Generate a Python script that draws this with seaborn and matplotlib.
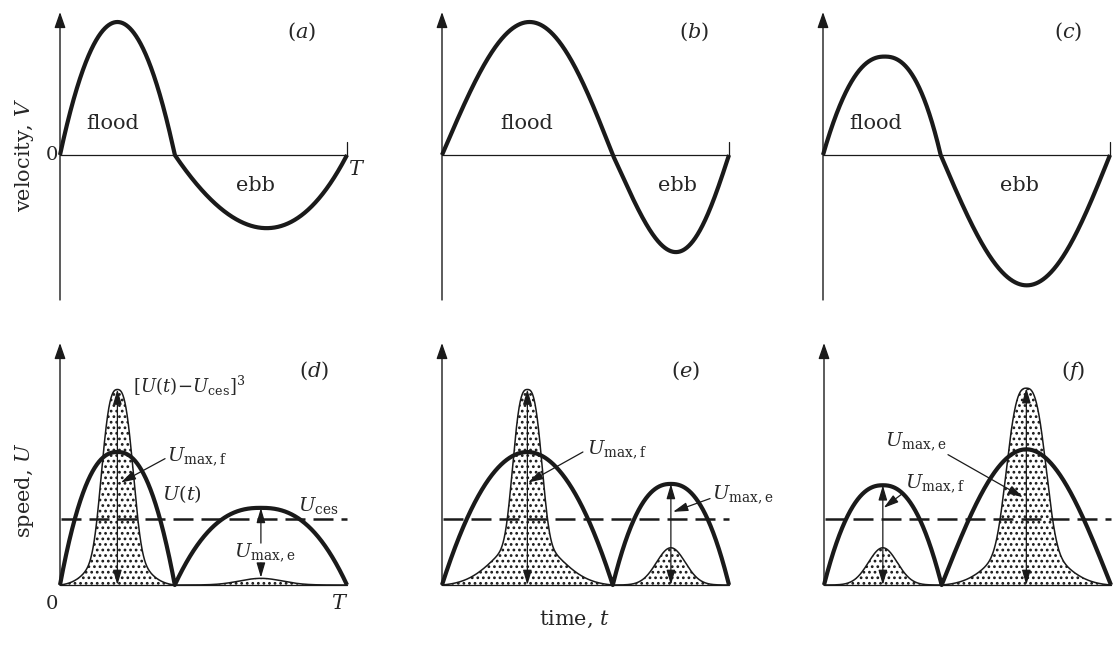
import numpy as np
import matplotlib
matplotlib.use("Agg")
import matplotlib.pyplot as plt
import seaborn as sns

# Tidal asymmetry sketches; time is measured in units of the tidal period T.
top_tags = ["a", "b", "c"]
bottom_tags = ["d", "e", "f"]

# turn of the tide (flood -> ebb) in each case
slack_t = [0.40, 0.595, 0.41]
# velocity extremes and their times
flood_peak_t = [0.20, 0.305, 0.215]
ebb_peak_t = [0.72, 0.815, 0.71]
flood_peak_v = [1.00, 1.00, 0.74]
ebb_peak_v = [-0.55, -0.73, -0.98]
# lobe outline: exponent p of 1 - |x|^p (x in [-1, 1]); None draws a sine lobe
flood_shape_v = [2.0, None, 2.3]
ebb_shape_v = [2.0, None, None]

# speed maxima of each half cycle and the critical speed for erosion
flood_umax = [1.00, 1.00, 0.75]
ebb_umax = [0.58, 0.76, 1.02]
flood_shape_u = [2.3, 2.0, 2.3]
ebb_shape_u = [2.4, 2.3, None]
u_ces = 0.50
# peaks of the stippled transport curve [U(t) - U_ces]^3
flood_cube = [1.47, 1.47, 0.28]
ebb_cube = [0.05, 0.28, 1.48]
# hump outline: (core width, skirt width, skirt weight)
flood_cube_shape = [(0.064, 0.10, 0.25), (0.059, 0.15, 0.25), (0.0, 0.071, 1.0)]
ebb_cube_shape = [(0.0, 0.105, 1.0), (0.0, 0.071, 1.0), (0.080, 0.146, 0.25)]

sns.set_theme(style="white")
plt.rcParams["font.family"] = ["DejaVu Serif"]
plt.rcParams["mathtext.fontset"] = "dejavuserif"
plt.rcParams["hatch.linewidth"] = 1.2
plt.rcParams["hatch.color"] = "black"

W, H = 1113, 645
fig = plt.figure(figsize=(W / 100, H / 100), dpi=100)
fig.patch.set_facecolor("white")

col_x = [60, 442, 824]
panel_w = 287
scale = 133.0
THICK = 3.0
THIN = 0.9
FS = 14


def add_axes(x0, ytop, ybot, ylim):
    ax = fig.add_axes([x0 / W, 1 - ybot / H, panel_w / W, (ybot - ytop) / H])
    ax.set_xlim(0, 1)
    ax.set_ylim(*ylim)
    ax.set_axis_off()
    ax.patch.set_alpha(0)
    ax.annotate("", xy=(0, 1), xycoords="axes fraction", xytext=(0, 0),
                arrowprops=dict(arrowstyle="-|>,head_length=0.8,head_width=0.28",
                                lw=1.0, color="k", shrinkA=0, shrinkB=0))
    return ax


def warp(s, f):
    k = (0.5 - f) / (f * (1 - f))
    return s + k * s * (1 - s)


def lobe(t, t0, t1, amp, p, f=0.5):
    s = warp(np.clip((t - t0) / (t1 - t0), 0, 1), f)
    if p is None:
        return amp * np.sin(np.pi * s)
    return amp * np.clip(1 - np.abs(2 * s - 1) ** p, 0, None)


def arrow(ax, p0, p1, style="-|>"):
    ax.annotate("", xy=p1, xytext=p0,
                arrowprops=dict(arrowstyle=f"{style},head_length=0.75,head_width=0.22",
                                lw=THIN, color="k", shrinkA=0, shrinkB=0))


def hump(t, tc, shape, t0, t1):
    core_w, skirt_w, a = shape

    def g(x):
        x = x - tc
        core = np.exp(-np.abs(x / core_w) ** 3) if a < 1 else 0.0
        return (1 - a) * core + a * np.exp(-(x / skirt_w) ** 2)
    base = g(t0) + (g(t1) - g(t0)) * (t - t0) / (t1 - t0)
    y = np.clip(g(t) - base, 0, None)
    return y / y.max()


# ---------- top row: velocity ----------
for i, x0 in enumerate(col_x):
    ax = add_axes(x0 if i != 2 else 823, 12, 300, (-(300 - 155) / scale, (155 - 12) / scale))
    ts = slack_t[i]
    t = np.unique(np.concatenate([np.linspace(0, 1, 2001), [ts]]))
    f1 = flood_peak_t[i] / ts
    f2 = (ebb_peak_t[i] - ts) / (1 - ts)
    v = np.where(t <= ts,
                 lobe(t, 0, ts, flood_peak_v[i], flood_shape_v[i], f1),
                 lobe(t, ts, 1, ebb_peak_v[i], ebb_shape_v[i], f2))
    ax.plot([0, 1], [0, 0], color="k", lw=THIN, clip_on=False)
    ax.plot([1, 1], [0, 0.1], color="k", lw=THIN, clip_on=False)
    sns.lineplot(x=t, y=v, ax=ax, color="k", lw=THICK, sort=False,
                 estimator=None, clip_on=False, solid_capstyle="butt")
    fl_x = [0.185, 0.296, 0.185][i]
    eb_x = [0.68, 0.822, 0.686][i]
    ax.text(fl_x, 0.24, "flood", ha="center", va="center", fontsize=FS + 1)
    ax.text(eb_x, -0.23, "ebb", ha="center", va="center", fontsize=FS + 1)
    tag_x = [0.84, 0.878, 0.854][i]
    ax.text(tag_x, 0.93, f"$({top_tags[i]})$", ha="center", va="center", fontsize=FS + 1)
    if i == 0:
        ax.text(-0.027, 0.0, "0", ha="center", va="center", fontsize=FS)
        ax.text(1.035, -0.11, "$T$", ha="center", va="center", fontsize=FS + 1)
        ax.text(-0.125, 0.0, "velocity, $V$", rotation=90, ha="center",
                va="center", fontsize=FS + 1)

# ---------- bottom row: speed ----------
for i, x0 in enumerate(col_x):
    ax = add_axes(x0, 343, 585, (0, (585 - 343) / scale))
    ts = slack_t[i]
    t = np.unique(np.concatenate([np.linspace(0, 1, 2001), [ts]]))
    u = np.where(t <= ts, lobe(t, 0, ts, flood_umax[i], flood_shape_u[i]),
                 lobe(t, ts, 1, ebb_umax[i], ebb_shape_u[i]))

    # stippled transport humps
    tf = np.linspace(0, ts, 800)
    te = np.linspace(ts, 1, 800)
    cf = flood_cube[i] * hump(tf, ts / 2, flood_cube_shape[i], 0, ts)
    ce = ebb_cube[i] * hump(te, (1 + ts) / 2, ebb_cube_shape[i], ts, 1)
    for tt, cc in ((tf, cf), (te, ce)):
        ax.fill_between(tt, 0, cc, facecolor="white", edgecolor="k",
                        hatch="...", lw=0)
        sns.lineplot(x=tt, y=cc, ax=ax, color="k", lw=1.1, sort=False,
                     estimator=None, clip_on=False)

    ax.plot([0, 1], [0, 0], color="k", lw=THIN, clip_on=False)
    ax.plot([0.005, 1], [u_ces, u_ces], color="k", lw=1.8, ls=(0, (8, 3.2)),
            clip_on=False)
    sns.lineplot(x=t, y=u, ax=ax, color="k", lw=THICK, sort=False,
                 estimator=None, clip_on=False, solid_capstyle="butt")

    tf_mid, te_mid = ts / 2, (1 + ts) / 2
    tag_x = [0.885, 0.85, 0.868][i]
    ax.text(tag_x, 1.61, f"$({bottom_tags[i]})$", ha="center", va="center",
            fontsize=FS + 1)
    sub_f = r"$U_{\mathrm{max,f}}$"
    sub_e = r"$U_{\mathrm{max,e}}$"
    if i == 0:
        arrow(ax, (tf_mid, 0), (tf_mid, flood_cube[i]), "<|-|>")
        arrow(ax, (te_mid, 0.315), (te_mid, ebb_umax[i]))
        arrow(ax, (te_mid, 0.165), (te_mid, ebb_cube[i] + 0.005))
        ax.text(0.373, 0.96, sub_f, ha="left", va="center", fontsize=FS)
        arrow(ax, (0.366, 0.95), (0.212, 0.77))
        ax.text(0.355, 0.68, "$U(t)$", ha="left", va="center", fontsize=FS)
        ax.text(0.83, 0.60, r"$U_{\mathrm{ces}}$", ha="left", va="center", fontsize=FS)
        ax.text(0.605, 0.24, sub_e, ha="left", va="center", fontsize=FS)
        ax.text(0.255, 1.50, r"$\left[U(t)\!-\!U_{\mathrm{ces}}\right]^3$",
                ha="left", va="center", fontsize=FS - 1)
        ax.text(-0.027, -0.14, "0", ha="center", va="center", fontsize=FS)
        ax.text(0.975, -0.14, "$T$", ha="center", va="center", fontsize=FS + 1)
        ax.text(-0.125, 0.71, "speed, $U$", rotation=90, ha="center",
                va="center", fontsize=FS + 1)
    elif i == 1:
        arrow(ax, (tf_mid, 0), (tf_mid, flood_cube[i]), "<|-|>")
        arrow(ax, (te_mid, 0), (te_mid, ebb_umax[i]), "<|-|>")
        ax.text(0.505, 1.015, sub_f, ha="left", va="center", fontsize=FS)
        arrow(ax, (0.491, 1.0), (0.30, 0.77))
        ax.text(0.94, 0.68, sub_e, ha="left", va="center", fontsize=FS)
        arrow(ax, (0.934, 0.65), (0.805, 0.55))
        ax.text(0.46, -0.26, "time, $t$", ha="center", va="center", fontsize=FS + 1)
    else:
        arrow(ax, (tf_mid, 0), (tf_mid, flood_umax[i]), "<|-|>")
        arrow(ax, (te_mid, 0), (te_mid, ebb_cube[i]), "<|-|>")
        ax.text(0.213, 1.075, sub_e, ha="left", va="center", fontsize=FS)
        arrow(ax, (0.432, 0.98), (0.693, 0.66))
        ax.text(0.282, 0.76, sub_f, ha="left", va="center", fontsize=FS)
        arrow(ax, (0.275, 0.69), (0.208, 0.58))

fig.savefig("out.png", dpi=100, facecolor="white")
